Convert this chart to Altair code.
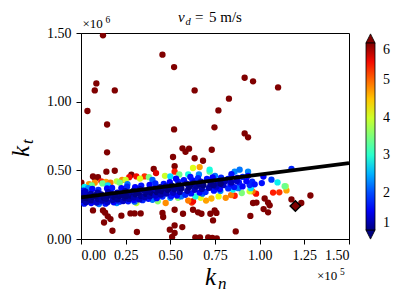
import altair as alt
import pandas as pd

SERIF = "Liberation Serif"

# ---- data (k_n in units of 1e5, k_t in units of 1e6, colour = v) ----
outliers = [
    (0.123, 1.483, 7.0), (0.456, 1.342, 7.2), (0.521, 1.252, 6.9), (0.086, 1.133, 7.1),
    (0.077, 1.082, 7.0), (0.189, 1.082, 6.8), (0.636, 1.082, 7.3), (0.916, 1.174, 7.0),
    (0.963, 1.148, 6.9), (1.103, 1.104, 7.1), (0.036, 0.932, 7.0), (0.828, 1.022, 7.2),
    (0.769, 0.936, 6.8), (0.146, 0.834, 7.0), (0.521, 0.798, 7.1), (0.747, 0.813, 6.9),
    (0.916, 0.769, 7.0), (0.935, 0.740, 7.2), (0.568, 0.660, 6.8), (0.605, 0.658, 7.0),
    (0.585, 0.635, 7.1), (0.732, 0.650, 6.9), (0.146, 0.631, 7.0), (0.515, 0.597, 7.3),
    (0.636, 0.588, 7.0), (0.683, 0.570, 6.8), (0.524, 0.530, 7.1), (0.142, 0.490, 7.0),
    (0.189, 0.497, 6.9), (0.407, 0.510, 7.2), (0.282, 0.468, 7.0), (0.067, 0.455, 6.8),
    (0.080, 0.440, 7.1), (0.095, 0.450, 7.0), (0.002, 0.410, 6.9),
    (0.067, 0.208, 7.0), (0.123, 0.208, 7.2), (0.135, 0.192, 6.8), (0.150, 0.165, 7.0),
    (0.165, 0.145, 7.1), (0.129, 0.120, 6.9), (0.176, 0.060, 7.0), (0.226, 0.170, 7.3),
    (0.277, 0.186, 7.0), (0.300, 0.186, 6.8), (0.334, 0.186, 7.1), (0.313, 0.051, 7.0),
    (0.456, 0.190, 6.9), (0.460, 0.160, 7.2), (0.524, 0.213, 7.0), (0.571, 0.184, 6.8),
    (0.497, 0.068, 7.1), (0.524, 0.099, 7.0), (0.524, 0.044, 6.9), (0.510, 0.015, 7.2),
    (0.567, 0.087, 7.0), (0.627, 0.213, 6.8), (0.655, 0.194, 7.1), (0.674, 0.184, 7.0),
    (0.724, 0.184, 6.9), (0.748, 0.208, 7.2), (0.758, 0.190, 7.0), (0.739, 0.135, 6.8),
    (0.640, 0.012, 7.1), (0.666, 0.012, 7.0), (0.712, 0.012, 6.9), (0.735, 0.008, 7.2),
    (0.760, 0.005, 7.0), (0.866, 0.055, 6.8), (0.948, 0.168, 7.1), (0.963, 0.262, 7.0),
    (0.982, 0.265, 6.9), (1.028, 0.295, 7.2), (1.047, 0.265, 7.0), (1.056, 0.245, 6.8),
    (1.022, 0.218, 7.1), (1.047, 0.194, 7.0), (1.178, 0.288, 6.9), (1.233, 0.262, 7.2),
    (1.284, 0.317, 7.0),
]
reds = [
    (0.114, 0.420, 5.4), (0.310, 0.456, 5.5), (0.356, 0.456, 5.3), (0.420, 0.480, 5.6),
    (0.524, 0.490, 5.4), (0.270, 0.450, 5.5), (0.620, 0.265, 5.3), (0.627, 0.275, 5.5),
    (1.075, 0.338, 5.4), (1.110, 0.340, 5.3), (0.980, 0.330, 5.5), (0.860, 0.315, 5.4),
]
oranges = [
    (0.077, 0.410, 4.8), (0.140, 0.415, 4.7), (0.165, 0.410, 4.9), (0.664, 0.524, 4.7),
    (0.474, 0.262, 4.8), (0.960, 0.347, 4.9), (1.150, 0.354, 4.7), (0.810, 0.300, 4.8),
    (0.840, 0.320, 4.9), (0.700, 0.280, 4.7), (0.230, 0.430, 4.8), (0.600, 0.280, 4.9),
    (0.730, 0.295, 4.6), (0.045, 0.400, 4.8),
]
yellows = [
    (0.627, 0.517, 4.1), (0.944, 0.347, 4.0), (0.310, 0.262, 3.9), (0.670, 0.300, 4.1),
    (0.770, 0.310, 4.2), (0.250, 0.430, 4.0), (0.330, 0.440, 4.1), (1.146, 0.383, 3.8),
    (0.200, 0.420, 3.9), (0.470, 0.460, 4.0),
]
greens = [
    (0.217, 0.410, 3.5), (0.120, 0.405, 3.4), (0.543, 0.300, 3.6), (0.900, 0.335, 3.5),
    (1.140, 0.385, 3.4), (0.720, 0.490, 3.3), (0.380, 0.450, 3.5), (0.550, 0.470, 3.4),
    (0.430, 0.275, 3.6), (0.060, 0.390, 3.4),
]
cyans = [
    (0.720, 0.505, 2.9), (1.100, 0.412, 2.8), (0.272, 0.286, 2.7), (0.350, 0.300, 2.9),
    (0.180, 0.280, 2.8), (0.500, 0.455, 2.7), (0.600, 0.470, 2.9), (0.850, 0.360, 2.8),
    (0.950, 0.370, 2.7), (0.020, 0.380, 2.8), (0.640, 0.310, 2.9), (0.150, 0.390, 2.7),
]
light_blues = [
    (0.860, 0.490, 2.3), (0.888, 0.505, 2.2), (0.935, 0.490, 2.3), (0.100, 0.255, 2.2),
    (0.200, 0.262, 2.3), (0.300, 0.272, 2.1), (0.400, 0.285, 2.2), (0.500, 0.300, 2.3),
    (0.560, 0.310, 2.2), (0.680, 0.330, 2.1), (0.780, 0.350, 2.3), (0.880, 0.370, 2.2),
    (0.040, 0.370, 2.3), (0.260, 0.400, 2.2), (0.400, 0.430, 2.1), (0.660, 0.470, 2.3),
    (0.750, 0.460, 2.2),
]
blues = [
    (0.015, 0.352, 1.7), (0.063, 0.364, 1.6), (0.097, 0.357, 1.8), (0.146, 0.368, 1.6),
    (0.174, 0.372, 1.7), (0.226, 0.371, 1.6), (0.258, 0.381, 1.8), (0.303, 0.377, 1.6),
    (0.337, 0.389, 1.7), (0.384, 0.393, 1.6), (0.416, 0.404, 1.8), (0.463, 0.401, 1.7),
    (0.497, 0.414, 1.6), (0.544, 0.418, 1.8), (0.576, 0.429, 1.7), (0.624, 0.426, 1.6),
    (0.655, 0.443, 1.8), (0.705, 0.437, 1.7), (0.737, 0.449, 1.6), (0.784, 0.446, 1.8),
    (0.823, 0.437, 1.7), (0.876, 0.445, 1.6), (0.958, 0.418, 1.8), (1.012, 0.407, 1.7),
    (1.021, 0.455, 1.6), (1.066, 0.432, 1.9), (1.178, 0.510, 1.8), (0.935, 0.460, 1.6),
    (0.842, 0.472, 1.7), (0.905, 0.452, 1.8), (0.612, 0.452, 1.7), (0.532, 0.439, 1.6),
    (0.018, 0.257, 1.7), (0.057, 0.262, 1.6), (0.104, 0.268, 1.8), (0.137, 0.257, 1.7),
    (0.183, 0.267, 1.6), (0.216, 0.272, 1.8), (0.264, 0.274, 1.7), (0.296, 0.284, 1.6),
    (0.345, 0.283, 1.8), (0.377, 0.293, 1.7), (0.424, 0.297, 1.6), (0.456, 0.309, 1.8),
    (0.504, 0.312, 1.7), (0.537, 0.317, 1.6), (0.584, 0.322, 1.8), (0.616, 0.332, 1.7),
    (0.664, 0.338, 1.6), (0.697, 0.343, 1.8), (0.744, 0.352, 1.7), (0.777, 0.362, 1.6),
    (0.824, 0.368, 1.8), (0.857, 0.378, 1.7), (0.904, 0.383, 1.6), (0.944, 0.393, 1.8),
    (0.836, 0.402, 1.6), (0.884, 0.412, 1.7), (0.926, 0.421, 1.6), (0.972, 0.398, 1.7),
]
navies = [
    (0.005, 0.285, 1.1), (0.012, 0.312, 1.0), (0.004, 0.335, 1.2),
    (0.028, 0.268, 1.2), (0.036, 0.296, 1.0), (0.031, 0.322, 1.1), (0.025, 0.344, 1.3),
    (0.058, 0.281, 1.1), (0.066, 0.305, 1.0), (0.054, 0.329, 1.2),
    (0.087, 0.266, 1.3), (0.095, 0.291, 1.1), (0.083, 0.314, 1.0), (0.092, 0.338, 1.2),
    (0.118, 0.279, 1.2), (0.126, 0.302, 1.0), (0.113, 0.325, 1.1),
    (0.148, 0.268, 1.3), (0.141, 0.293, 1.1), (0.157, 0.316, 1.0), (0.152, 0.341, 1.2),
    (0.177, 0.284, 1.2), (0.186, 0.306, 1.0), (0.172, 0.329, 1.1),
    (0.206, 0.288, 1.1), (0.215, 0.314, 1.0), (0.203, 0.338, 1.2),
    (0.236, 0.276, 1.3), (0.244, 0.299, 1.1), (0.232, 0.323, 1.0), (0.247, 0.348, 1.2),
    (0.268, 0.292, 1.2), (0.276, 0.316, 1.0), (0.263, 0.337, 1.1),
    (0.297, 0.303, 1.2), (0.305, 0.326, 1.0), (0.293, 0.351, 1.1),
    (0.327, 0.288, 1.3), (0.336, 0.312, 1.1), (0.322, 0.338, 1.0), (0.331, 0.362, 1.2),
    (0.357, 0.304, 1.2), (0.365, 0.328, 1.0), (0.353, 0.352, 1.1),
    (0.386, 0.311, 1.2), (0.395, 0.336, 1.0), (0.382, 0.361, 1.1),
    (0.417, 0.316, 1.3), (0.425, 0.341, 1.0), (0.413, 0.366, 1.2),
    (0.447, 0.323, 1.2), (0.455, 0.348, 1.0), (0.443, 0.377, 1.1),
    (0.478, 0.331, 1.2), (0.486, 0.356, 1.0), (0.474, 0.383, 1.1),
    (0.515, 0.336, 1.3), (0.523, 0.362, 1.1), (0.508, 0.389, 1.0),
    (0.553, 0.343, 1.2), (0.562, 0.368, 1.0), (0.548, 0.396, 1.1),
    (0.595, 0.351, 1.2), (0.604, 0.377, 1.0), (0.590, 0.403, 1.2),
    (0.636, 0.358, 1.3), (0.645, 0.383, 1.1), (0.631, 0.409, 1.2),
    (0.676, 0.364, 1.2), (0.685, 0.391, 1.0), (0.671, 0.418, 1.3),
    (0.716, 0.372, 1.2), (0.725, 0.399, 1.1),
    (0.757, 0.381, 1.3), (0.764, 0.408, 1.2),
    (0.797, 0.392, 1.3), (0.806, 0.421, 1.2),
    (0.021, 0.300, 1.0), (0.075, 0.318, 1.0), (0.135, 0.310, 1.05), (0.192, 0.320, 1.0),
    (0.252, 0.312, 1.0), (0.312, 0.340, 1.0), (0.372, 0.345, 1.05), (0.432, 0.355, 1.0),
    (0.492, 0.370, 1.0), (0.541, 0.380, 1.05), (0.612, 0.390, 1.0), (0.662, 0.400, 1.0),
    (0.742, 0.392, 1.05), (0.782, 0.402, 1.0), (0.842, 0.412, 1.2), (0.872, 0.423, 1.3),
]

# fitted line and highlighted point
line_kn = [0.0, 1.5]
line_kt = [0.303, 0.553]
mark_kn = [1.2]
mark_kt = [0.240]

# axis ticks / colour bar
x_ticks = [0.0, 0.25, 0.5, 0.75, 1.0, 1.25, 1.5]
y_ticks = [0.0, 0.25, 0.5, 0.75, 1.0, 1.25, 1.5]
cbar_ticks = [1, 2, 3, 4, 5, 6]

# jet colour map (piecewise stops over v = 1 .. 6)
jet_domain = [1, 1.55, 1.625, 2.7, 2.75, 2.875, 4.2, 4.25, 4.3, 5.45, 5.55, 6]
jet_range = ["#000080", "#0000ff", "#0000ff", "#00dbff", "#00e6f7", "#15ffe2",
             "#eeff08", "#f7f500", "#ffec00", "#ff1300", "#e80000", "#800000"]

rows = []
for grp in [outliers, reds, oranges, yellows, greens, cyans, light_blues, blues, navies]:
    for kn, kt, v in grp:
        rows.append({"kn": kn, "kt": kt, "v": v})
df = pd.DataFrame(rows)
df["order"] = range(len(df))

W, H = 268, 206
xs = alt.Scale(domain=[0, 1.5], nice=False, zero=False)
ys = alt.Scale(domain=[0, 1.5], nice=False, zero=False)

scatter = alt.Chart(df).mark_circle(size=40, opacity=1, clip=True).encode(
    x=alt.X("kn:Q", scale=xs, axis=alt.Axis(values=x_ticks, format=".2f", title=None,
                                            labelFont=SERIF)),
    y=alt.Y("kt:Q", scale=ys, axis=alt.Axis(values=y_ticks, format=".2f", title=None,
                                            labelFont=SERIF)),
    color=alt.Color(
        "v:Q",
        scale=alt.Scale(domain=jet_domain, range=jet_range, clamp=True, interpolate="rgb"),
        legend=alt.Legend(
            orient="none", legendX=285, legendY=10, direction="vertical",
            gradientLength=187, gradientThickness=9, title=None, values=cbar_ticks,
            format="d", labelFont=SERIF, labelFontSize=14, labelOffset=8,
            labelColor="black", gradientStrokeColor="black", gradientStrokeWidth=0.8,
            padding=0, labelOverlap=False,
        ),
    ),
    order=alt.Order("order:Q"),
)

line = alt.Chart(pd.DataFrame({"kn": line_kn, "kt": line_kt})).mark_line(
    color="black", strokeWidth=3.8, clip=True
).encode(x=alt.X("kn:Q", scale=xs), y=alt.Y("kt:Q", scale=ys))

diamond = alt.Chart(pd.DataFrame({"kn": mark_kn, "kt": mark_kt})).mark_point(
    shape="diamond", filled=True, fill="#800000", stroke="black", strokeWidth=1.5,
    size=110, opacity=1
).encode(x=alt.X("kn:Q", scale=xs), y=alt.Y("kt:Q", scale=ys))


def label(text, x, y, size, style="normal", align="left", angle=0):
    return alt.Chart(pd.DataFrame({"t": [text]})).mark_text(
        font=SERIF, fontSize=size, fontStyle=style, align=align,
        baseline="alphabetic", color="black", angle=angle
    ).encode(text="t:N", x=alt.value(x), y=alt.value(y))


texts = [
    label("v", 97, -11.5, 15, "italic"),
    label("d", 104.5, -8.5, 10.5, "italic"),
    label("=", 114, -11.5, 15),
    label("5 m/s", 128, -11.5, 15),
    label("×10", 1.5, -5, 13),
    label("6", 24.5, -10.5, 9.5),
    label("×10", 236, 247, 13),
    label("5", 259, 242, 9.5),
    label("k", 124, 252, 25, "italic"),
    label("n", 137, 256, 17, "italic"),
    label("k", -52, 124, 25, "italic", angle=270),
    label("t", -48, 111, 17, "italic", angle=270),
]

tri_up = alt.Chart(pd.DataFrame({"s": [6]})).mark_point(
    shape="M-1,1L0,-1L1,1Z", filled=True, fill="#800000", stroke="black",
    strokeWidth=0.8, size=85, opacity=1
).encode(x=alt.value(289.5), y=alt.value(5.5))
tri_down = alt.Chart(pd.DataFrame({"s": [1]})).mark_point(
    shape="M-1,-1L0,1L1,-1Z", filled=True, fill="#000080", stroke="black",
    strokeWidth=0.8, size=85, opacity=1
).encode(x=alt.value(289.5), y=alt.value(201.5))

chart = alt.layer(scatter, line, diamond, tri_up, tri_down, *texts).properties(
    width=W, height=H,
    autosize=alt.AutoSizeParams(type="none"),
    padding={"left": 73, "top": 25, "right": 50, "bottom": 62},
).configure_view(stroke="black", strokeWidth=1).configure_axis(
    labelFont=SERIF, labelFontSize=14, labelColor="black", tickColor="black",
    domainColor="black", tickSize=5, grid=False, labelPadding=4, domainWidth=1,
    tickWidth=1,
).configure_axisY(labelPadding=5)

chart.save("out.html", embed_options={"renderer": "svg", "actions": False})
